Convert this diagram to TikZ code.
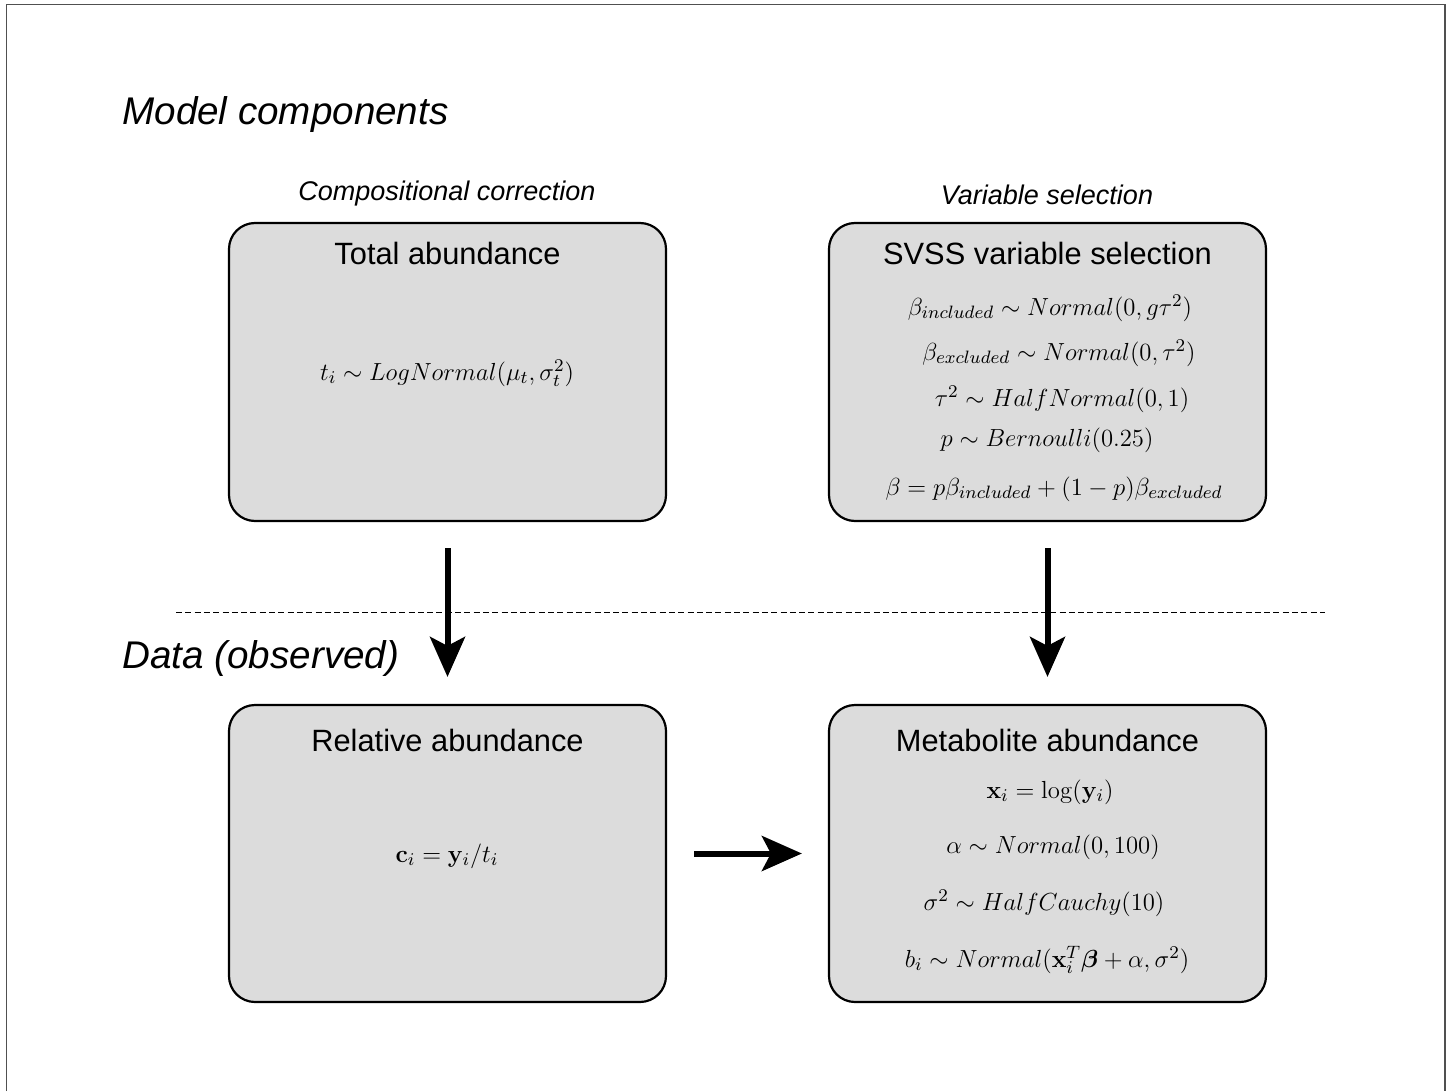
\IfFileExists{fix-cm.sty}{\RequirePackage{fix-cm}}{}
\documentclass[tikz,border=0pt]{standalone}
\usepackage{amsmath}
\usepackage{graphicx}
\usepackage[no-math]{fontspec}
\newfontfamily\hv{Liberation Sans}
\usetikzlibrary{arrows.meta}
\DeclareMathSizes{12}{12}{8.7}{6.5}
\definecolor{boxgray}{RGB}{220,220,220}
\definecolor{framegray}{RGB}{80,80,80}
\newcommand{\eqtxt}[1]{\scalebox{1.03}{$#1$}}
\tikzset{
  mbox/.style={draw=black, line width=1.1pt, fill=boxgray, rounded corners=13pt,
    minimum width=218.5pt, inner sep=0pt},
  head/.style={font=\hv\itshape\fontsize{19.3}{22}\selectfont, anchor=base west, inner sep=0pt},
  sub/.style={font=\hv\itshape\fontsize{13.5}{16}\selectfont, anchor=base, inner sep=0pt},
  ttl/.style={font=\hv\fontsize{15.4}{18}\selectfont, anchor=base, inner sep=0pt},
  eq/.style={font=\fontsize{12}{15}\selectfont, anchor=base, inner sep=0pt},
  bigarrow/.style={line width=3pt, -{Stealth[length=20pt,width=17.5pt,inset=4.5pt]}},
}
\begin{document}
\begin{tikzpicture}[x=0.5pt,y=-0.5pt]
\useasboundingbox (0,0) rectangle (1449,1091);
% frame
\draw[framegray, line width=0.9pt] (6.5,1091) -- (6.5,4.5) -- (1445,4.5) -- (1445,1091);

% headings
\node[head] (hmodel) at (122,125) {Model components};
\node[head] (hdata) at (122,668) {Data (observed)};
\node[sub] (scomp) at (447,200) {Compositional correction};
\node[sub] (svar) at (1047,205) {Variable selection};

% boxes
\node[mbox, minimum height=149pt] (tot) at (447.5,372) {};
\node[mbox, minimum height=149pt] (svss) at (1047.5,372) {};
\node[mbox, minimum height=148.5pt] (rel) at (447.5,853.5) {};
\node[mbox, minimum height=148.5pt] (met) at (1047.5,853.5) {};

% titles
\node[ttl] (ttot) at (447.5,264) {Total abundance};
\node[ttl] (tsvss) at (1047.5,264) {SVSS variable selection};
\node[ttl] (trel) at (447.5,751) {Relative abundance};
\node[ttl] (tmet) at (1047.5,751) {Metabolite abundance};

% equations
\node[eq] (e1) at (447,380) {\eqtxt{t_i \sim LogNormal(\mu_t, \sigma_t^2)}};

\node[eq] (s1) at (1050,315) {\eqtxt{\beta_{included} \sim Normal(0, g\tau^2)}};
\node[eq] (s2) at (1059,360) {\eqtxt{\beta_{excluded} \sim Normal(0, \tau^2)}};
\node[eq] (s3) at (1062,406) {\eqtxt{\tau^2 \sim HalfNormal(0,1)}};
\node[eq] (s4) at (1047,446) {\eqtxt{p \sim Bernoulli(0.25)}};
\node[eq] (s5) at (1054,495) {\eqtxt{\beta = p\beta_{included} + (1-p)\beta_{excluded}}};

\node[eq] (r1) at (447,862) {\eqtxt{\mathbf{c}_i = \mathbf{y}_i / t_i}};

\node[eq] (m1) at (1050,798) {\eqtxt{\mathbf{x}_i = \log(\mathbf{y}_i)}};
\node[eq] (m2) at (1053,853) {\eqtxt{\alpha \sim Normal(0, 100)}};
\node[eq] (m3) at (1044,910) {\eqtxt{\sigma^2 \sim HalfCauchy(10)}};
\node[eq] (m4) at (1047,967) {\eqtxt{b_i \sim Normal(\mathbf{x}_i^T\boldsymbol{\beta} + \alpha, \sigma^2)}};

% dashed separator
\coordinate (dl) at (176,612.5);
\coordinate (dr) at (1325,612.5);
\draw[line width=0.75pt, dash pattern=on 3pt off 1.65pt] (dl) -- (dr);

% arrows
\draw[bigarrow, shorten <=13pt, shorten >=13.5pt] (tot.south) -- (rel.north);
\draw[bigarrow, shorten <=13pt, shorten >=13.5pt] (svss.south) -- (met.north);
\draw[bigarrow, shorten <=13.5pt, shorten >=13pt] (rel.east) -- (met.west);
\end{tikzpicture}
\end{document}
